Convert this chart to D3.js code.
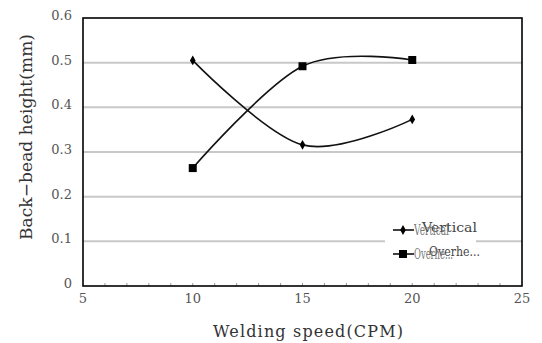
<!DOCTYPE html>
<html>
<head>
<meta charset="utf-8">
<script src="https://cdn.jsdelivr.net/npm/d3@7"></script>
<style>
  body { margin: 0; background: #fff; }
  svg text { font-family: "DejaVu Serif", serif; }
</style>
</head>
<body>
<svg id="chart" width="542" height="343"></svg>
<script>
// data
var speeds = [10, 15, 20];
var vertical = [0.505, 0.316, 0.373];
var overhead = [0.264, 0.492, 0.506];
var xTicks = [5, 10, 15, 20, 25];
var yTicks = [0, 0.1, 0.2, 0.3, 0.4, 0.5, 0.6];
var seriesNames = ["Vertical", "Overhe..."];

var width = 542, height = 343;
var m = {left: 83, right: 20, top: 18, bottom: 57};

var svg = d3.select("#chart");

var x = d3.scaleLinear().domain([5, 25]).range([m.left, width - m.right]);
var y = d3.scaleLinear().domain([0, 0.6]).range([height - m.bottom, m.top]);

// gridlines
svg.append("g").selectAll("line")
  .data(yTicks.filter(function (d) { return d > 0 && d < 0.6; }))
  .enter().append("line")
  .attr("x1", x(5)).attr("x2", x(25))
  .attr("y1", function (d) { return y(d); })
  .attr("y2", function (d) { return y(d); })
  .attr("stroke", "#c8c8c8")
  .attr("stroke-width", 2);

// minor ticks along the bottom, pointing up
svg.append("g").selectAll("line")
  .data(d3.range(6, 25))
  .enter().append("line")
  .attr("x1", function (d) { return x(d); })
  .attr("x2", function (d) { return x(d); })
  .attr("y1", y(0)).attr("y2", y(0) - 3)
  .attr("stroke", "#999")
  .attr("stroke-width", 1);

// tick labels
svg.append("g").selectAll("text")
  .data(yTicks)
  .enter().append("text")
  .attr("x", 72)
  .attr("y", function (d) { return y(d) + 2; })
  .attr("text-anchor", "end")
  .attr("font-size", "13px")
  .attr("fill", "#555")
  .text(function (d) { return +d.toFixed(1); });

svg.append("g").selectAll("text")
  .data(xTicks)
  .enter().append("text")
  .attr("x", function (d) { return x(d); })
  .attr("y", 303)
  .attr("text-anchor", "middle")
  .attr("font-size", "13px")
  .attr("fill", "#555")
  .text(function (d) { return d; });

// axis titles
svg.append("text")
  .attr("x", 308).attr("y", 337)
  .attr("text-anchor", "middle")
  .attr("font-size", "16px")
  .attr("fill", "#333")
  .attr("textLength", 190)
  .attr("lengthAdjust", "spacing")
  .text("Welding speed(CPM)");

svg.append("text")
  .attr("transform", "translate(32,137) rotate(-90)")
  .attr("text-anchor", "middle")
  .attr("font-size", "17px")
  .attr("fill", "#333")
  .attr("textLength", 206)
  .attr("lengthAdjust", "spacing")
  .text("Back\u2212bead height(mm)");

// series lines
var line = d3.line()
  .x(function (d) { return x(d[0]); })
  .y(function (d) { return y(d[1]); })
  .curve(d3.curveCardinal.tension(0));

var vData = d3.zip(speeds, vertical);
var oData = d3.zip(speeds, overhead);

[vData, oData].forEach(function (s) {
  svg.append("path")
    .attr("d", line(s))
    .attr("fill", "none")
    .attr("stroke", "#111")
    .attr("stroke-width", 1.6);
});

var diamond = d3.symbol().type(d3.symbolDiamond).size(28);
svg.append("g").selectAll("path")
  .data(vData)
  .enter().append("path")
  .attr("transform", function (d) { return "translate(" + x(d[0]) + "," + y(d[1]) + ")"; })
  .attr("d", diamond)
  .attr("fill", "#000");

svg.append("g").selectAll("rect")
  .data(oData)
  .enter().append("rect")
  .attr("x", function (d) { return x(d[0]) - 4; })
  .attr("y", function (d) { return y(d[1]) - 4; })
  .attr("width", 8).attr("height", 8)
  .attr("fill", "#000");

// frame
svg.append("rect")
  .attr("x", x(5)).attr("y", y(0.6))
  .attr("width", x(25) - x(5))
  .attr("height", y(0) - y(0.6))
  .attr("fill", "none")
  .attr("stroke", "#000")
  .attr("stroke-width", 1.6);

// legend
var lg = svg.append("g");
lg.append("rect")
  .attr("x", 385).attr("y", 218)
  .attr("width", 91).attr("height", 48)
  .attr("fill", "#fff");

var rowsY = [230, 254];
seriesNames.forEach(function (name, i) {
  var ry = rowsY[i];
  lg.append("line")
    .attr("x1", 393).attr("x2", 414)
    .attr("y1", ry).attr("y2", ry)
    .attr("stroke", "#111").attr("stroke-width", 1.6);
  if (i === 0) {
    lg.append("path")
      .attr("transform", "translate(403," + ry + ")")
      .attr("d", diamond).attr("fill", "#000");
  } else {
    lg.append("rect")
      .attr("x", 399).attr("y", ry - 4)
      .attr("width", 8).attr("height", 8)
      .attr("fill", "#000");
  }
  // two overlapping renderings of the label, as in the picture
  lg.append("text")
    .attr("x", i === 0 ? 422 : 429).attr("y", ry + 2)
    .attr("font-size", "13px")
    .attr("fill", "#444")
    .attr("textLength", i === 0 ? 55 : 51)
    .attr("lengthAdjust", "spacingAndGlyphs")
    .text(name);
  lg.append("text")
    .attr("x", 414).attr("y", ry + 5)
    .attr("font-size", "15px")
    .attr("fill", "#777")
    .attr("textLength", i === 0 ? 35 : 39)
    .attr("lengthAdjust", "spacingAndGlyphs")
    .text(name);
});
</script>
</body>
</html>
